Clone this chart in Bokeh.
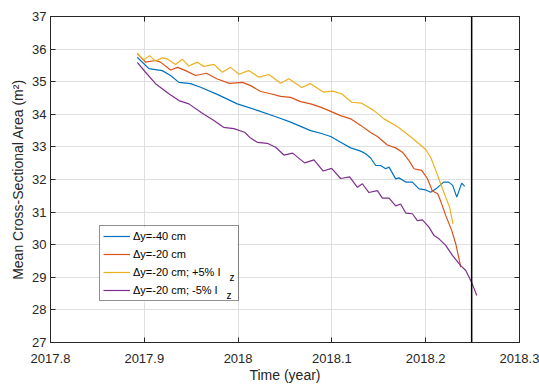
from bokeh.plotting import figure
from bokeh.models import (Range1d, FixedTicker, CustomJSTickFormatter, LinearAxis,
                          Span, Legend, LegendItem, Label, BoxAnnotation)
from bokeh.embed import file_html
from bokeh.resources import INLINE

# Mean cross-sectional area (m^2) against time (decimal year)
blue_t = [2017.8925, 2017.9049, 2017.9191, 2017.928, 2017.9369, 2017.9493, 2017.96, 2017.9778,
          2017.9991, 2018.0205, 2018.0418, 2018.056, 2018.0773, 2018.088, 2018.0987, 2018.1093,
          2018.12, 2018.1307, 2018.136, 2018.1413, 2018.1467, 2018.152, 2018.1573, 2018.1609,
          2018.168, 2018.1715, 2018.1787, 2018.1858, 2018.1929, 2018.2, 2018.2053, 2018.2125,
          2018.2192, 2018.2245, 2018.2288, 2018.2331, 2018.2384, 2018.2416]
blue_a = [35.75, 35.40, 35.34, 35.19, 34.98, 34.94, 34.83, 34.61, 34.32, 34.12, 33.91, 33.76,
          33.50, 33.42, 33.32, 33.14, 32.97, 32.87, 32.79, 32.66, 32.43, 32.43, 32.33, 32.38,
          32.02, 32.05, 31.92, 31.92, 31.71, 31.68, 31.61, 31.75, 31.92, 31.92, 31.82, 31.46,
          31.89, 31.79]

red_t = [2017.8925, 2017.9013, 2017.912, 2017.9173, 2017.928, 2017.9355, 2017.944, 2017.9547,
         2017.9664, 2017.9771, 2017.9909, 2018.0048, 2018.0133, 2018.024, 2018.0347, 2018.0453,
         2018.056, 2018.0667, 2018.0773, 2018.088, 2018.0987, 2018.1093, 2018.12, 2018.1307,
         2018.1413, 2018.1485, 2018.1591, 2018.168, 2018.1755, 2018.1822, 2018.1875, 2018.1957,
         2018.2018, 2018.2071, 2018.2128, 2018.216, 2018.2213, 2018.2277, 2018.232, 2018.2355,
         2018.2373]
red_a = [35.87, 35.60, 35.65, 35.60, 35.36, 35.44, 35.34, 35.19, 35.26, 35.09, 34.95, 34.98,
         34.88, 34.70, 34.63, 34.55, 34.52, 34.39, 34.32, 34.22, 34.09, 33.96, 33.86, 33.66,
         33.44, 33.32, 33.06, 32.97, 32.83, 32.58, 32.33, 32.28, 32.03, 31.65, 31.56, 31.33,
         30.90, 30.44, 30.03, 29.57, 29.31]

yel_t = [2017.8925, 2017.8995, 2017.9056, 2017.912, 2017.9191, 2017.9245, 2017.9333, 2017.9405,
         2017.9475, 2017.9565, 2017.9635, 2017.9742, 2017.9832, 2017.992, 2018.0009, 2018.0112,
         2018.0222, 2018.0329, 2018.0453, 2018.0542, 2018.0677, 2018.0773, 2018.0912, 2018.1005,
         2018.1104, 2018.1211, 2018.1317, 2018.1445, 2018.1555, 2018.1701, 2018.1822, 2018.192,
         2018.2, 2018.2053, 2018.2107, 2018.216, 2018.2213, 2018.2256, 2018.2291]
yel_a = [35.87, 35.67, 35.80, 35.63, 35.73, 35.70, 35.53, 35.69, 35.48, 35.60, 35.47, 35.53,
         35.29, 35.44, 35.23, 35.34, 35.14, 35.22, 34.95, 35.09, 34.82, 34.94, 34.68, 34.71,
         34.63, 34.37, 34.34, 34.12, 33.86, 33.62, 33.35, 33.12, 32.92, 32.68, 32.28, 31.87,
         31.46, 31.14, 30.64]

pur_t = [2017.8925, 2017.9013, 2017.912, 2017.9262, 2017.9369, 2017.9475, 2017.9618, 2017.9742,
         2017.9845, 2017.9955, 2018.0069, 2018.0133, 2018.0205, 2018.0311, 2018.04, 2018.0489,
         2018.0581, 2018.0709, 2018.0809, 2018.0907, 2018.0997, 2018.1093, 2018.1189, 2018.1272,
         2018.1325, 2018.1395, 2018.1485, 2018.1538, 2018.1609, 2018.168, 2018.1733, 2018.1787,
         2018.1858, 2018.1911, 2018.1965, 2018.2035, 2018.2089, 2018.2142, 2018.2213, 2018.2285,
         2018.2373, 2018.2427, 2018.248, 2018.2515, 2018.2544]
pur_a = [35.59, 35.29, 34.94, 34.63, 34.42, 34.32, 34.03, 33.81, 33.60, 33.56, 33.45, 33.27,
         33.14, 33.11, 32.99, 32.75, 32.81, 32.51, 32.60, 32.26, 32.34, 32.03, 32.08, 31.76,
         31.87, 31.60, 31.66, 31.43, 31.43, 31.19, 31.25, 30.97, 30.95, 30.74, 30.76, 30.54,
         30.28, 30.18, 29.98, 29.67, 29.36, 29.21, 28.90, 28.66, 28.44]

series_labels = ["Δy=-40 cm", "Δy=-20 cm", "Δy=-20 cm; +5% I", "Δy=-20 cm; -5% I"]
event_year = 2018.249

x_ticks = [2017.8, 2017.9, 2018.0, 2018.1, 2018.2, 2018.3]
y_ticks = [27, 28, 29, 30, 31, 32, 33, 34, 35, 36, 37]

FONT = "Liberation Sans"
AX = "#262626"

p = figure(width=539, height=385, output_backend="svg", toolbar_location=None,
           x_range=Range1d(2017.8, 2018.3), y_range=Range1d(27, 37),
           min_border_left=50, min_border_right=20, min_border_top=16, min_border_bottom=43,
           background_fill_color="white", border_fill_color="white")
p.outline_line_color = AX
p.outline_line_width = 1

xt = FixedTicker(ticks=x_ticks)
yt = FixedTicker(ticks=y_ticks)
fmt = CustomJSTickFormatter(code="return String(Math.round(tick * 10) / 10);")
blank = CustomJSTickFormatter(code="return '';")

for ax in p.xaxis:
    ax.ticker = xt
    ax.formatter = fmt
    ax.axis_label = "Time (year)"
    ax.major_label_standoff = 11
    ax.axis_label_standoff = 1
for ax in p.yaxis:
    ax.ticker = yt
    ax.axis_label = "Mean Cross-Sectional Area (m²)"
    ax.major_label_standoff = 4
    ax.axis_label_standoff = 3

# box ticks on top and right, no labels there
top = LinearAxis(ticker=xt, formatter=blank, major_label_standoff=0)
right = LinearAxis(ticker=yt, formatter=blank, major_label_standoff=0)
p.add_layout(top, "above")
p.add_layout(right, "right")

for ax in p.axis:
    ax.axis_line_color = AX
    ax.major_tick_line_color = AX
    ax.major_tick_in = 5
    ax.major_tick_out = 0
    ax.minor_tick_line_color = None
    ax.major_label_text_font = FONT
    ax.major_label_text_color = AX
    ax.major_label_text_font_size = "13px"
    ax.axis_label_text_font = FONT
    ax.axis_label_text_color = AX
    ax.axis_label_text_font_style = "normal"
    ax.axis_label_text_font_size = "14px"

p.xgrid.ticker = xt
p.ygrid.ticker = yt
p.grid.grid_line_color = "#dfdfdf"
p.grid.grid_line_width = 1

colors = ["#0072BD", "#D95319", "#EDB120", "#7E2F8E"]
r1 = p.line(blue_t, blue_a, line_color=colors[0], line_width=1.2)
r2 = p.line(red_t, red_a, line_color=colors[1], line_width=1.2)
r3 = p.line(yel_t, yel_a, line_color=colors[2], line_width=1.2)
r4 = p.line(pur_t, pur_a, line_color=colors[3], line_width=1.2)

p.add_layout(Span(location=event_year, dimension="height", line_color="#000000", line_width=1.5))

# white panel behind the (transparent) legend, in screen offsets from the frame corner
LEG_L, LEG_B, LEG_W, LEG_H = 49, 41, 138, 74
p.add_layout(BoxAnnotation(left=LEG_L, right=LEG_L + LEG_W, bottom=LEG_B, top=LEG_B + LEG_H,
                           left_units="screen", right_units="screen",
                           bottom_units="screen", top_units="screen",
                           fill_color="white", fill_alpha=1, line_color=None))

# subscript z after the "I" in the last two legend entries
for xs, ys in [(179, 65), (176, 47)]:
    p.add_layout(Label(x=xs, y=ys, x_units="screen", y_units="screen", text="z",
                       text_font=FONT, text_font_size="10px", text_color="#000000",
                       text_baseline="alphabetic"))

legend = Legend(items=[LegendItem(label=lab, renderers=[r]) for lab, r in
                       zip(series_labels, [r1, r2, r3, r4])],
                location=(LEG_L, LEG_B), margin=0, padding=3, spacing=4,
                glyph_width=27, glyph_height=14, label_height=14, label_width=102,
                label_standoff=3, label_text_font=FONT, label_text_font_size="11px",
                label_text_color="#000000", border_line_color=AX, border_line_width=1,
                background_fill_alpha=0)
p.add_layout(legend)

open("out.html", "w").write(file_html(p, INLINE))
